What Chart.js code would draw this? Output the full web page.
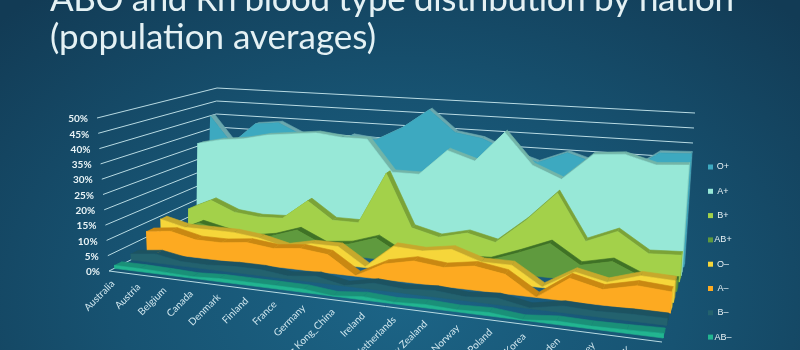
<!DOCTYPE html>
<html><head><meta charset="utf-8">
<script src="https://cdn.jsdelivr.net/npm/chart.js@4"></script>
<style>
html,body{margin:0;padding:0;width:800px;height:350px;overflow:hidden;background:radial-gradient(ellipse 560px 400px at 400px 300px,#1c6486 0%,#175372 50%,#123b55 100%);}
canvas{position:absolute;left:0;top:0;}
</style></head><body><canvas id="c" width="800" height="350"></canvas>
<script>
const categories=["Australia","Austria","Belgium","Canada","Denmark","Finland","France","Germany","Hong Kong_China","Ireland","Netherlands","New Zealand","Norway","Poland","South Korea","Sweden","Turkey","UK","USA"];
const valueTicks=[0,5,10,15,20,25,30,35,40,45,50];
const seriesNames=["AB–","B–","A–","O–","AB+","B+","A+","O+"];
const legendNames=["O+","A+","B+","AB+","O–","A–","B–","AB–"];
const abNeg=[1,1,0.8,0.5,1,1,1,1,0.05,1,0.5,1,0.6,1,0.1,1,0.8,1,1.3];
const bNeg=[2,3,1.5,1.4,2,2,1,2,0.14,2,1.3,2,1.2,2,0.2,2,1.6,2,2];
const aNeg=[7,8,6,6,7,6,7,6,0.2,5,7,6,7.5,6,0.1,7,4.7,7,6.3];
const oNeg=[9,7,7,7,6,4,6,6,0.3,8,7.5,9,6,6,0.2,6,3.9,7,6.6];
const abPos=[2,6,4.1,2.5,4,7,3,4,7,2,2.5,3,3.4,7,11,5,7.2,3,3.4];
const bPos=[8,12,8.5,7.6,8,15,9,9,27,9,6.7,9,6.8,15,25,10,14.2,8,8.5];
const aPos=[31,33,34,36,37,38,37,37,26,26,35,32,42.5,32,28,37,37.8,35,35.7];
const oPos=[40,30,38,39,35,27,36,35,40,47,39.5,38,34,31,35,32,29.8,37,37.4];
const seriesValues=[abNeg,bNeg,aNeg,oNeg,abPos,bPos,aPos,oPos];
const frontColors=["#22b590","#23626e","#fdaa21","#f6d63a","#5f9a3e","#a3d14a","#97e8d7","#3da9c0"];
const topColors=["#1a9078","#1c5361","#c98812","#c6a92c","#3f7226","#7ba337","#73b5a8","#6aa8ae"];
const sideColors=["#1a9078","#1c5361","#e6c22f","#b8a12f","#4b7f30","#8cba3d","#7cc4b6","#4b97a8"];
const seriesDepth=[0.05,0.21,0.364,0.50,0.64,0.76,0.84,0.948];
const seriesThick=[0.07,0.07,0.07,0.06,0.05,0.05,0.045,0.04];

// projection of the 3-D box
const C={fl0:[109,271],fr0:[662,342],bl0:[213,218],br0:[685,263],fl1:[97,118],fr1:[676,162],bl1:[217,88],br1:[695,113]};
const lerp=(a,b,t)=>[a[0]+(b[0]-a[0])*t,a[1]+(b[1]-a[1])*t];
const warp=u=>u*0.828/(1-0.172*u);
function P(u,v,z){const w=warp(u),t=v/50;
  const f=lerp(lerp(C.fl0,C.fr0,w),lerp(C.fl1,C.fr1,w),t);
  const b=lerp(lerp(C.bl0,C.br0,w),lerp(C.bl1,C.br1,w),t);
  const p=lerp(f,b,z);return {x:p[0],y:p[1]};}
const n=categories.length,U=i=>i/(n-1);
const datasets=[];
function poly(pts,col){datasets.push({data:pts,fill:'shape',backgroundColor:col,borderColor:col,borderWidth:0.6,pointRadius:0,tension:0});}
function line(pts){datasets.push({data:pts,fill:false,borderColor:"#b9dbe3",borderWidth:1,pointRadius:0,tension:0});}
valueTicks.forEach(v=>{
  line([P(0,v,0),P(0,v,1),P(1,v,1)]);
});
line([P(0,0,0),P(1,0,0)]);
for(let s=seriesValues.length-1;s>=0;s--){
  const vals=seriesValues[s],z=seriesDepth[s],zb=z+seriesThick[s];
  for(let i=n-2;i>=0;i--){
    poly([P(U(i),vals[i],z),P(U(i+1),vals[i+1],z),P(U(i+1),vals[i+1],zb),P(U(i),vals[i],zb)],topColors[s]);
  }
  poly([P(1,0,z),P(1,vals[n-1],z),P(1,vals[n-1],zb),P(1,0,zb)],sideColors[s]);
  const front=vals.map((v,i)=>P(U(i),v,z));
  front.push(P(1,0,z),P(0,0,z));
  poly(front,frontColors[s]);
}
datasets.forEach((d,i)=>d.order=-i);
const textPlugin={id:'texts',afterDraw(chart){
  const c=chart.ctx;c.save();
  c.fillStyle="#e4f1f4";c.textBaseline="alphabetic";c.textAlign="left";
  c.font='35px Lato';
  c.letterSpacing='-0.4px';
  c.fillText("ABO and Rh blood type distribution by nation",50,11);
  c.letterSpacing='0px';
  c.fillText("(population averages)",50,49);
  c.font='bold 10px Lato';c.textAlign="right";c.textBaseline="middle";c.fillStyle="#e8f3f6";
  valueTicks.forEach(v=>{const p=P(0,v,0);c.fillText(v+"%",p.x-9,p.y+1);});
  c.font='10px Lato';c.fillStyle="#cfe6ee";
  categories.forEach((t,i)=>{const p=P(U(i),0,0);c.save();c.translate(p.x+4,p.y+11);c.rotate(-Math.PI/4);c.fillText(t,0,0);c.restore();});
  c.font='9px "Liberation Sans"';c.textAlign="center";
  legendNames.forEach((t,i)=>{const y=167+i*24.3;
    c.fillStyle=frontColors[7-i];c.fillRect(708,y-2.5,5,5);
    c.fillStyle="#e8f1f4";c.fillText(t,723,y);});
  c.restore();
}};
new Chart(document.getElementById('c'),{type:'line',data:{datasets},plugins:[textPlugin],options:{
  responsive:false,animation:false,events:[],layout:{padding:0},
  plugins:{legend:{display:false},tooltip:{enabled:false},title:{display:false}},
  scales:{x:{type:'linear',min:0,max:800,display:false},y:{type:'linear',min:0,max:350,reverse:true,display:false}}
}});
</script></body></html>
